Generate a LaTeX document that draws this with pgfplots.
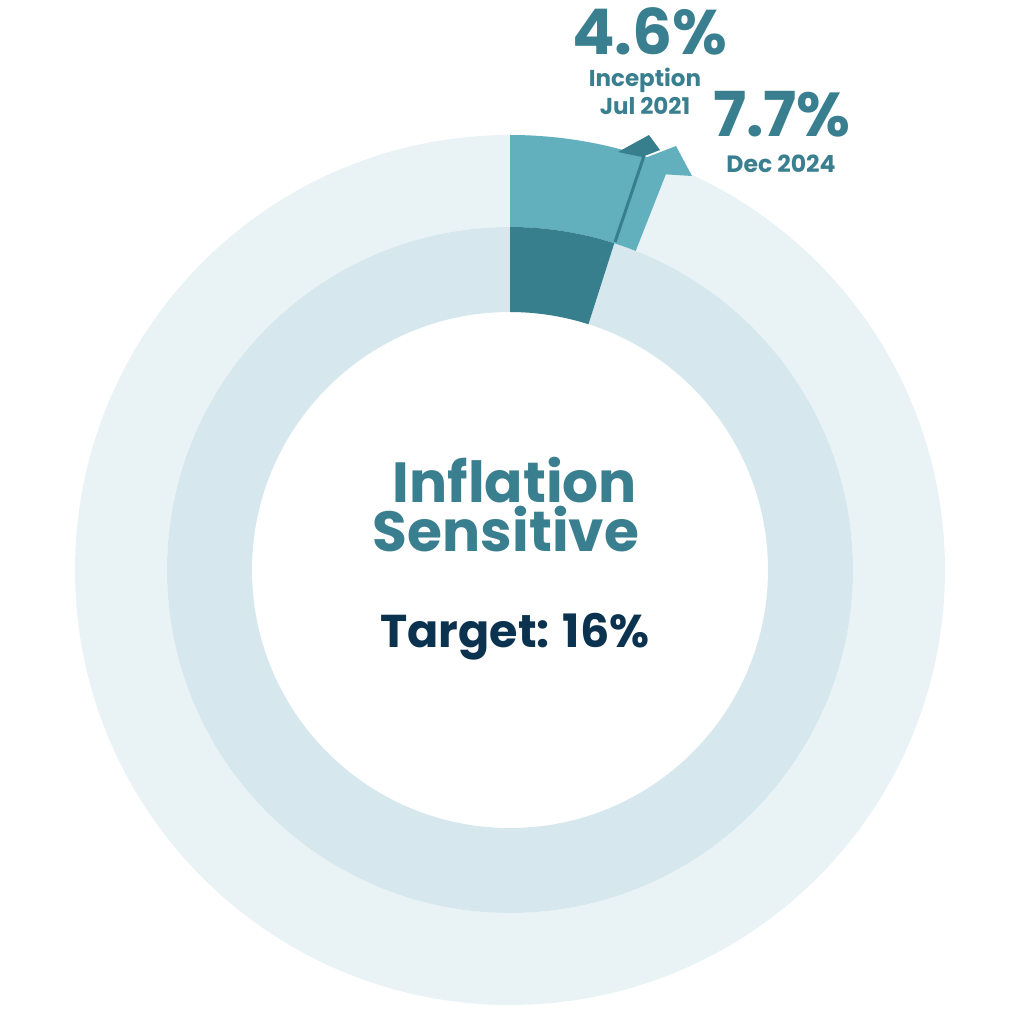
\documentclass[border=0pt]{standalone}
\usepackage{pgfplots}
\pgfplotsset{compat=1.18}
\usepackage{fontspec}
\setmainfont{Poppins}
\definecolor{ringout}{HTML}{E9F3F6}
\definecolor{ringin}{HTML}{D6E8EE}
\definecolor{lightteal}{HTML}{62B0BD}
\definecolor{darkteal}{HTML}{387F8E}
\definecolor{labteal}{HTML}{3A7F8F}
\definecolor{navy}{HTML}{0B3350}
% values: inception (Jul 2021) 4.6%, Dec 2024 7.7%, target 16%
% end angles of the drawn segments (degrees, measured clockwise from top)
\def\incAngle{17.7}
\def\curAngle{21.5}
\begin{document}
\begin{tikzpicture}
\begin{axis}[x=0.5pt,y=0.5pt,xmin=-510,xmax=514,ymin=-454,ymax=570,
  hide axis,enlargelimits=false,clip=false]
\path (rel axis cs:0,0) rectangle (rel axis cs:1,1);
% background rings
\fill[ringout,even odd rule] (axis cs:0,0) circle[radius=217.5pt] circle[radius=171.5pt];
\fill[ringin,even odd rule] (axis cs:0,0) circle[radius=171.5pt] circle[radius=129pt];
% outer ring: Dec 2024 (7.7%)
\pgfmathsetmacro{\ea}{90-\curAngle}
\fill[lightteal] ([shift={(90:217.5pt)}]axis cs:0,0) arc[start angle=90,end angle=\ea,radius=217.5pt]
  -- ([shift={(\ea:171.5pt)}]axis cs:0,0) arc[start angle=\ea,end angle=90,radius=171.5pt] -- cycle;
% inner ring: Inception (4.6%)
\pgfmathsetmacro{\eb}{90-\incAngle}
\fill[darkteal] ([shift={(90:171.5pt)}]axis cs:0,0) arc[start angle=90,end angle=\eb,radius=171.5pt]
  -- ([shift={(\eb:129pt)}]axis cs:0,0) arc[start angle=\eb,end angle=90,radius=129pt] -- cycle;
% light arrow head
\addplot[fill=lightteal,draw=none] coordinates {(135,412) (166,424) (182,394) (150,396)} -- cycle;
% inception marker line and arrow head
\addplot[darkteal,line width=1.5pt] coordinates {(105,328) (134,414)};
\addplot[fill=darkteal,draw=none] coordinates {(108,418) (139,435) (150,420) (132,413)} -- cycle;
% labels
\tikzset{lab/.style={anchor=base,inner sep=0pt,outer sep=0pt}}
\node[lab,text=labteal,font=\bfseries\fontsize{28.3}{28.3}\selectfont] at (axis cs:5,67) {Inflation};
\node[lab,text=labteal,font=\bfseries\fontsize{28.3}{28.3}\selectfont] at (axis cs:-4,18) {Sensitive};
\node[lab,text=navy,font=\bfseries\fontsize{23}{23}\selectfont] at (axis cs:5,-78) {Target: 16\%};
\node[lab,text=labteal,font=\bfseries\fontsize{31.5}{31.5}\selectfont] at (axis cs:140,515) {4.6\%};
\node[lab,text=labteal,font=\bfseries\fontsize{11.5}{11.5}\selectfont] at (axis cs:135,483) {Inception};
\node[lab,text=labteal,font=\bfseries\fontsize{11.5}{11.5}\selectfont] at (axis cs:135,455) {Jul 2021};
\node[lab,text=labteal,font=\bfseries\fontsize{31}{31}\selectfont] at (axis cs:272,433) {7.7\%};
\node[lab,text=labteal,font=\bfseries\fontsize{11.8}{11.8}\selectfont] at (axis cs:271,397) {Dec 2024};
\end{axis}
\end{tikzpicture}
\end{document}
